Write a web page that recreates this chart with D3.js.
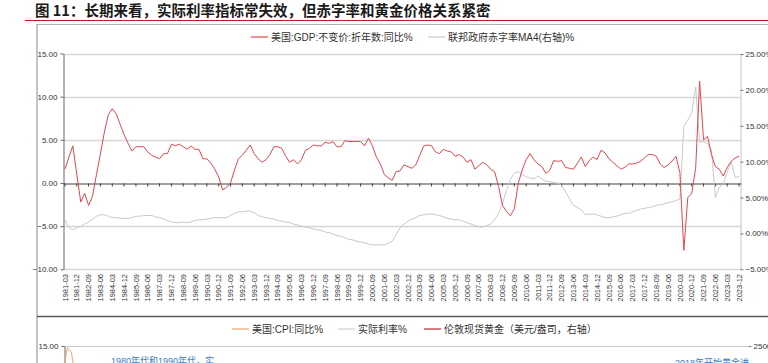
<!DOCTYPE html>
<html>
<head>
<meta charset="utf-8">
<script src="https://cdn.jsdelivr.net/npm/d3@7"></script>
<style>
  body { margin: 0; background: #fff; }
  svg { display: block; }
</style>
</head>
<body>
<div id="chart"></div>
<script>
// 季度类别 1981-03 ... 2023-12
const years = d3.range(1981, 2024);
const quarterMonths = ["03", "06", "09", "12"];
const quarters = years.flatMap(y => quarterMonths.map(m => `${y}-${m}`));

// 美国:GDP:不变价:折年数:同比 (%) 每年4个季度
const gdp = [
  1.6, 3.0, 4.3, 1.0,   -2.2, -1.2, -2.6, -1.5,   1.0, 3.4, 5.9, 7.9,
  8.6, 8.0, 6.8, 5.6,   4.6, 3.7, 4.2, 4.2,   4.2, 3.6, 3.2, 3.0,
  2.8, 3.4, 3.4, 4.5,   4.3, 4.5, 4.2, 3.9,   4.3, 3.9, 3.9, 2.8,
  2.8, 2.3, 1.6, 0.7,   -0.8, -0.5, 0.0, 1.5,   2.8, 3.2, 3.8, 4.4,
  3.4, 2.8, 2.4, 2.7,   3.3, 4.2, 4.2, 4.0,   3.1, 2.4, 2.7, 2.2,
  2.7, 3.8, 4.0, 4.4,   4.3, 4.3, 4.7, 4.6,   4.8, 4.2, 4.2, 4.9,
  4.8, 4.8, 4.8, 4.8,   4.3, 5.2, 4.3, 3.0,   2.2, 1.0, 0.6, 0.3,
  1.3, 1.4, 2.1, 1.9,   1.7, 2.1, 3.2, 4.3,   4.4, 4.3, 3.6, 3.4,
  3.9, 3.7, 3.6, 3.1,   3.3, 3.0, 2.4, 2.7,   1.6, 2.0, 2.4, 2.1,
  1.6, 1.3, -0.4, -2.6,   -3.3, -3.8, -3.0, 0.0,   1.5, 2.7, 3.4, 2.7,
  2.2, 1.9, 1.1, 1.5,   2.6, 2.5, 2.6, 1.8,   1.7, 1.6, 2.3, 3.0,
  1.9, 2.6, 3.0, 2.7,   3.8, 3.5, 2.8, 2.4,   2.0, 1.6, 1.8, 2.2,
  2.2, 2.3, 2.5, 2.9,   3.3, 3.3, 3.1, 2.2,   1.8, 2.1, 2.5, 3.1,
  1.2, -7.8, -1.7, -1.2,   1.7, 11.8, 5.0, 5.4,   3.3, 1.9, 1.6, 0.8,
  1.8, 2.5, 2.9, 3.1
];

// 联邦政府赤字率MA4 (右轴, %)
const deficit = [
  1.9, 0.8, 0.5, 0.8,   1.0, 1.3, 1.6, 2.0,   2.4, 2.6, 2.6, 2.4,
  2.2, 2.2, 2.1, 2.1,   2.1, 2.2, 2.4, 2.4,   2.5, 2.5, 2.5, 2.3,
  2.2, 2.0, 1.8, 1.6,   1.5, 1.5, 1.6, 1.5,   1.6, 1.8, 1.9, 1.9,
  2.0, 2.1, 2.2, 2.2,   2.2, 2.2, 2.5, 2.8,   3.0, 3.0, 3.1, 3.1,
  2.9, 2.5, 2.3, 2.2,   2.1, 2.0, 1.8, 1.7,   1.6, 1.5, 1.3, 1.2,
  1.0, 0.9, 0.8, 0.6,   0.5, 0.4, 0.2, 0.1,   -0.1, -0.3, -0.4, -0.6,
  -0.8, -0.9, -1.1, -1.2,   -1.3, -1.5, -1.6, -1.6,   -1.6, -1.6, -1.4, -1.1,
  -0.2, 0.8, 1.3, 1.7,   2.0, 2.2, 2.5, 2.6,   2.7, 2.7, 2.6, 2.5,
  2.3, 2.1, 2.0, 1.9,   1.9, 1.7, 1.5, 1.3,   1.1, 0.9, 0.9, 1.1,
  1.3, 1.9, 2.8, 4.2,   6.0, 7.5, 8.4, 8.6,   8.2, 7.9, 7.7, 7.6,
  8.0, 7.6, 7.3, 7.2,   7.1, 7.0, 6.7, 5.8,   4.8, 3.9, 3.6, 3.3,
  2.6, 2.7, 2.7, 2.6,   2.4, 2.2, 2.2, 2.3,   2.4, 2.6, 2.8, 2.8,
  3.0, 3.2, 3.4, 3.5,   3.6, 3.7, 3.9, 4.0,   4.1, 4.3, 4.4, 4.6,
  4.8, 14.9, 15.8, 16.8,   20.4, 12.7, 12.8, 12.5,   11.6, 5.0, 6.4, 6.9,
  8.5, 10.0, 7.8, 7.9
];

const leftTicks = [-10, -5, 0, 5, 10, 15];
const rightTicks = [-5, 0, 5, 10, 15, 20, 25];

// 第二张图 (只露出顶部): 月度 1980-01 ... 2023-12
const monthNums = ["01","02","03","04","05","06","07","08","09","10","11","12"];
const months = d3.range(1980, 2024).flatMap(y => monthNums.map(m => `${y}-${m}`));
// 美国:CPI:同比 1980-1981
const cpi = [13.1, 14.2, 14.8, 14.6, 14.4, 14.3, 13.1, 12.9, 12.6, 12.8, 12.6, 12.5,
             11.8, 11.4, 10.5, 10.0, 9.8, 9.6, 10.8, 10.8, 11.0, 10.1, 9.6, 8.9];

const title = "图 11：长期来看，实际利率指标常失效，但赤字率和黄金价格关系紧密";
const legend1 = [
  { label: "美国:GDP:不变价:折年数:同比%", color: "#e0474c" },
  { label: "联邦政府赤字率MA4(右轴)%", color: "#c9c9c9" }
];
const legend2 = [
  { label: "美国:CPI:同比%", color: "#f4a46a" },
  { label: "实际利率%", color: "#cfcfcf" },
  { label: "伦敦现货黄金（美元/盎司，右轴）", color: "#c0272d" }
];
const notes = [
  { text: "1980年代和1990年代，实", x: 111, y: 364 },
  { text: "2018年开始黄金进", x: 675, y: 366 }
];

const width = 768, height = 363;
const font = "'Liberation Sans', 'Noto Sans CJK SC', sans-serif";
const cjk = "'Noto Sans CJK SC', 'Liberation Sans', sans-serif";

const svg = d3.select("#chart").append("svg")
  .attr("width", width).attr("height", height)
  .style("background", "white");

// 标题
svg.append("text")
  .attr("x", 35).attr("y", 16)
  .style("font-family", cjk)
  .style("font-size", "14.5px")
  .style("font-weight", "bold")
  .attr("fill", "#1a1a1a")
  .text(title);

svg.append("line")
  .attr("x1", 25).attr("x2", width).attr("y1", 20.5).attr("y2", 20.5)
  .attr("stroke", "#c8161d").attr("stroke-width", 1.2);

// 外框
svg.append("line").attr("x1", 37).attr("x2", width).attr("y1", 24.5).attr("y2", 24.5)
  .attr("stroke", "#b0b0b0").attr("stroke-width", 1.2);
svg.append("line").attr("x1", 37).attr("x2", 37).attr("y1", 24).attr("y2", height)
  .attr("stroke", "#b0b0b0").attr("stroke-width", 1.5);
svg.append("line").attr("x1", 37).attr("x2", width).attr("y1", 316.5).attr("y2", 316.5)
  .attr("stroke", "#595959").attr("stroke-width", 1.5);

// ---------- 图一 ----------
const x = d3.scaleBand().domain(quarters).range([63, 741]);
const xc = d => x(d) + x.bandwidth() / 2;
const yL = d3.scaleLinear().domain([-10, 15]).range([269.3, 53.5]);
const yR = d3.scaleLinear().domain([-5, 25]).range([269.3, 54]);

// 网格线
svg.append("g").selectAll("line")
  .data(leftTicks.filter(d => d !== 0))
  .join("line")
  .attr("x1", 63).attr("x2", 741)
  .attr("y1", d => Math.round(yL(d)) + 0.5).attr("y2", d => Math.round(yL(d)) + 0.5)
  .attr("stroke", "#d6d6d6").attr("stroke-width", 1.5);

// 左轴
const gLeft = svg.append("g")
  .attr("transform", "translate(63.5,0)")
  .call(d3.axisLeft(yL).tickValues(leftTicks).tickFormat(d3.format(".2f")).tickSize(3).tickSizeOuter(0));
gLeft.select(".domain").attr("stroke", "#666");
gLeft.selectAll(".tick line").attr("stroke", "#666");
gLeft.selectAll("text").attr("x", -6).style("font-family", font).style("font-size", "8px").attr("fill", "#333");

// 右轴
const gRight = svg.append("g")
  .attr("transform", "translate(740.5,0)")
  .call(d3.axisRight(yR).tickValues(rightTicks).tickFormat(d => d3.format(".2f")(d) + "%").tickSize(3).tickSizeOuter(0));
gRight.select(".domain").attr("stroke", "#c4c4c4");
gRight.selectAll(".tick line").attr("stroke", "#777");
gRight.selectAll("text").attr("x", 5).style("font-family", font).style("font-size", "8px").attr("fill", "#333");

// 零轴 + 刻度
const tickQuarters = quarters.filter((d, i) => i % 3 === 0);
const gZero = svg.append("g")
  .attr("transform", `translate(0,${Math.round(yL(0)) + 0.5})`)
  .call(d3.axisBottom(x).tickValues(tickQuarters).tickFormat("").tickSize(3).tickSizeOuter(0));
gZero.select(".domain").attr("stroke", "#404040").attr("stroke-width", 1.2);
gZero.selectAll(".tick line").attr("stroke", "#404040");

// 底部日期标签
svg.append("g").selectAll("text")
  .data(tickQuarters)
  .join("text")
  .attr("transform", d => `translate(${xc(d)},274) rotate(-90)`)
  .attr("text-anchor", "end")
  .attr("dy", "0.35em")
  .style("font-family", font)
  .style("font-size", "7.5px")
  .attr("fill", "#333")
  .text(d => d);

// 折线
svg.append("path")
  .datum(deficit)
  .attr("fill", "none")
  .attr("stroke", "#c9c9c9")
  .attr("stroke-width", 1)
  .attr("d", d3.line().x((d, i) => xc(quarters[i])).y(d => yR(d)));

svg.append("path")
  .datum(gdp)
  .attr("fill", "none")
  .attr("stroke", "#e0474c")
  .attr("stroke-width", 1)
  .attr("d", d3.line().x((d, i) => xc(quarters[i])).y(d => yL(d)));

// 图例
function drawLegend(items, starts, y) {
  const g = svg.append("g");
  items.forEach((it, i) => {
    g.append("line")
      .attr("x1", starts[i]).attr("x2", starts[i] + 17)
      .attr("y1", y).attr("y2", y)
      .attr("stroke", it.color).attr("stroke-width", 1.2);
    g.append("text")
      .attr("x", starts[i] + 20).attr("y", y).attr("dy", "0.35em")
      .style("font-family", font).style("font-size", "10px")
      .attr("fill", "#333")
      .text(it.label);
  });
}
drawLegend(legend1, [251, 428], 37);

// ---------- 图二 (顶部) ----------
const x2 = d3.scalePoint().domain(months).range([65, 747]);
const y2 = d3.scaleLinear().domain([0, 15]).range([346 + 15 * 8.64, 346]);

drawLegend(legend2, [232, 338, 424], 329);

svg.append("line").attr("x1", 64).attr("x2", 748).attr("y1", 346.5).attr("y2", 346.5)
  .attr("stroke", "#c8c8c8").attr("stroke-width", 1.2);

const gLeft2 = svg.append("g")
  .attr("transform", "translate(64.5,0)")
  .call(d3.axisLeft(y2).tickValues([15]).tickFormat(d3.format(".2f")).tickSize(3).tickSizeOuter(0));
gLeft2.select(".domain").attr("stroke", "#666");
gLeft2.selectAll(".tick line").attr("stroke", "#666");
gLeft2.selectAll("text").attr("x", -6).style("font-family", font).style("font-size", "8px").attr("fill", "#333");

const gRight2 = svg.append("g").attr("transform", "translate(748.5,0)");
gRight2.append("line").attr("x1", 0).attr("x2", 3).attr("y1", 346.5).attr("y2", 346.5).attr("stroke", "#777");
gRight2.append("text").attr("x", 5).attr("y", 346.5).attr("dy", "0.32em")
  .style("font-family", font).style("font-size", "8px").attr("fill", "#333").text("2500");

svg.append("path")
  .datum(cpi)
  .attr("fill", "none")
  .attr("stroke", "#f4a46a")
  .attr("stroke-width", 1)
  .attr("d", d3.line().x((d, i) => x2(months[i])).y(d => y2(d)));

svg.append("g").selectAll("text")
  .data(notes)
  .join("text")
  .attr("x", d => d.x).attr("y", d => d.y)
  .style("font-family", font).style("font-size", "9px")
  .attr("fill", "#3a7cc4")
  .text(d => d.text);
</script>
</body>
</html>
